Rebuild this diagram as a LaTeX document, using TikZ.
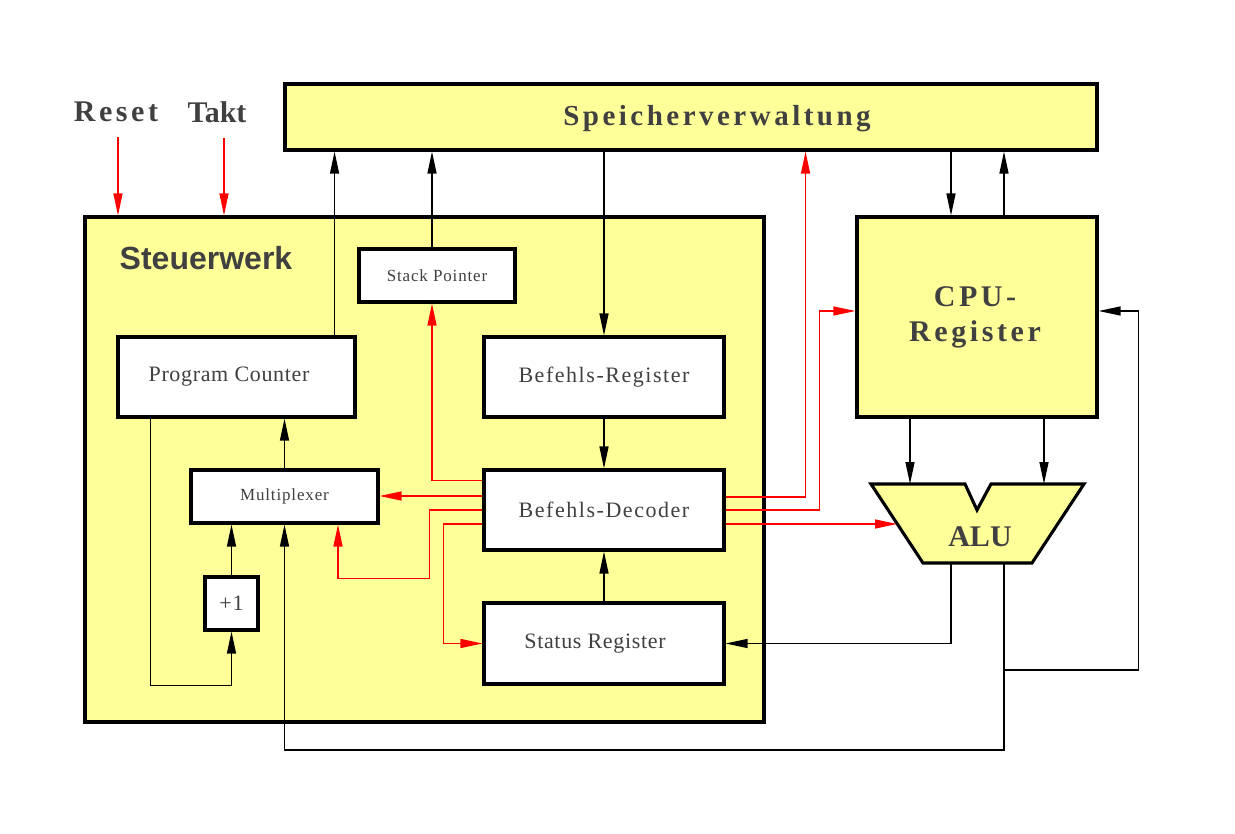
\documentclass[tikz,border=0pt]{standalone}
\usepackage{fontspec}
\setmainfont{Liberation Serif}
\newfontfamily\spc[LetterSpace=3]{Liberation Serif}
\newfontfamily\sspc[LetterSpace=5]{Liberation Serif}
\newfontfamily\wide[LetterSpace=7]{Liberation Serif}
\newfontfamily\bwide[LetterSpace=12]{Liberation Serif}
\newfontfamily\sans{Liberation Sans}
\usepackage{xcolor}
\definecolor{yel}{HTML}{FFFF99}
\definecolor{txt}{HTML}{404040}
\definecolor{rline}{HTML}{FF0000}
\usepackage{tikz}
\usetikzlibrary{arrows.meta,positioning,calc}
\tikzset{
  >={Triangle[length=22pt,width=9pt]},
  box/.style={draw=black,line width=3.1pt,fill=white,inner sep=0pt,text=txt,font=\spc\fontsize{22}{26}\selectfont},
  sbox/.style={box,font=\sspc\fontsize{17}{20}\selectfont},
  wbox/.style={box,font=\wide\fontsize{22}{26}\selectfont},
  ybox/.style={box,fill=yel},
  head/.style={inner sep=0pt,text=txt,font=\bwide\fontsize{29}{35}\selectfont\bfseries,align=center},
  arr/.style={->,draw=black,line width=1.3pt},
  rarr/.style={->,draw=rline,line width=1.3pt},
}

\begin{document}
\begin{tikzpicture}[x=1pt,y=-1pt]
\useasboundingbox (0,0) rectangle (1235,834);
% Memory management
\node[ybox,minimum width=812,minimum height=66] (mem) at (691,117) {};
\node[head] at (717,119) {Speicherverwaltung};
% Inputs
\node[head,font=\bwide\fontsize{30}{35}\selectfont\bfseries] (reset) at (116,112) {Reset};
\node[head,font=\fontsize{30}{35}\selectfont\bfseries] (takt) at (217,112) {Takt};
% Control unit
\node[ybox,minimum width=679,minimum height=505] (cu) at (424.5,469.5) {};
\node[inner sep=0pt,text=txt,font=\sans\fontsize{32}{37}\selectfont\bfseries] (cutitle) at (206,258) {Steuerwerk};
\node[sbox,minimum width=156,minimum height=53] (sp) at (437,275.5) {Stack Pointer};
\node[box,minimum width=237,minimum height=80] (pc) at (236.5,377) {Program Counter\kern15pt};
\node[wbox,minimum width=240,minimum height=80] (br) at (604,377) {Befehls-Register};
\node[sbox,minimum width=187,minimum height=53] (mux) at (284.5,496.5) {Multiplexer};
\node[wbox,minimum width=240,minimum height=80] (dec) at (604,510) {Befehls-Decoder};
\node[box,minimum width=53,minimum height=53] (inc) at (231.5,603.5) {+1};
\node[box,minimum width=240,minimum height=81] (sr) at (604,643.5) {Status Register\kern18pt};
% CPU registers
\node[ybox,minimum width=240,minimum height=200] (cpu) at (977,317) {};
\node[head,font=\bwide\fontsize{30}{35}\selectfont\bfseries] at (975,317) {CPU-\\Register};
% ALU
\coordinate (alu-tl) at (871,484);
\coordinate (alu-tr) at (1084,484);
\coordinate (alu-bl) at (923,563);
\coordinate (alu-br) at (1032,563);
\coordinate (alu-in) at ($(alu-tl)!0.5!(alu-bl)$);
\coordinate (alu-o1) at (951,563);
\coordinate (alu-o2) at (1004,563);
\draw[line width=3.1pt,fill=yel,line join=miter] (alu-tl) -- (965,484) -- (977,510) -- (991,484) -- (alu-tr) -- (alu-br) -- (alu-bl) -- cycle;
\node[head,font=\fontsize{30}{35}\selectfont\bfseries] at (980,537) {ALU};
% Reset and clock
\draw[rarr] ([xshift=2pt,yshift=-15pt]reset.south) -- ([xshift=2pt]reset.south |- cu.north);
\draw[rarr] ([xshift=7pt,yshift=-15pt]takt.south) -- ([xshift=7pt]takt.south |- cu.north);
% Black paths
\draw[arr] ([xshift=-22pt]pc.north east) -- ([xshift=-22pt]pc.north east |- mem.south);
\draw[arr] ([xshift=-5pt]sp.north) -- ([xshift=-5pt]sp.north |- mem.south);
\draw[arr] (br.north |- mem.south) -- (br.north);
\draw[arr] (br.south) -- (dec.north);
\draw[arr] (sr.north) -- (dec.south);
\draw[arr] (mux.north) -- (mux.north |- pc.south);
\draw[arr] (inc.north) -- (inc.north |- mux.south);
\draw[arr] ([xshift=34pt]pc.south west) |- ([yshift=-54pt]inc.south) -- (inc.south);
\draw[arr] ([xshift=-26pt]cpu.north |- mem.south) -- ([xshift=-26pt]cpu.north);
\draw[arr] ([xshift=27pt]cpu.north) -- ([xshift=27pt]cpu.north |- mem.south);
\draw[arr] ([xshift=-67pt]cpu.south) -- ([xshift=-67pt]cpu.south |- alu-tl);
\draw[arr] ([xshift=67pt]cpu.south) -- ([xshift=67pt]cpu.south |- alu-tl);
\draw[arr] (alu-o1) |- (sr.east);
\draw[arr] (alu-o2) -- ++(0,187) -| (mux.south);
\draw[arr] ([yshift=-107pt]alu-o2) -| ([xshift=40pt,yshift=6pt]cpu.east) -- ([yshift=6pt]cpu.east);
% Red control lines
\draw[rarr] ([yshift=-12pt]dec.north west) -| ([xshift=-5pt]sp.south);
\draw[rarr] ([yshift=14pt]dec.west) -- ([yshift=14pt]dec.west -| mux.east);
\draw[rarr] (dec.west) -- ++(-53,0) |- ([xshift=53.5pt,yshift=-54pt]mux.south) -- ([xshift=53.5pt]mux.south);
\draw[rarr] ([yshift=-14pt]dec.west) -- ++(-39,0) |- (sr.west);
\draw[rarr] ([yshift=13pt]dec.east) -| ([xshift=80pt]dec.east |- mem.south);
\draw[rarr] (dec.east) -- ++(94,0) |- ([yshift=6pt]cpu.west);
\draw[rarr] ([yshift=-14pt]dec.east) -- ([yshift=-14pt]dec.east -| alu-in);
\end{tikzpicture}
\end{document}
